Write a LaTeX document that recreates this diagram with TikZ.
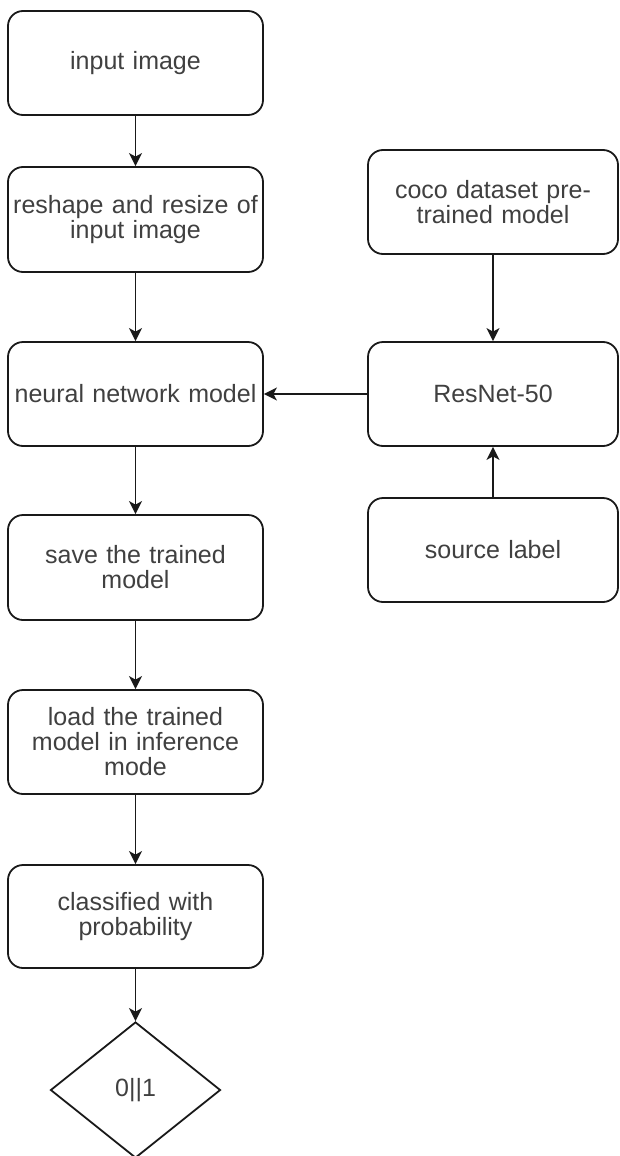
\documentclass[tikz,border=0pt]{standalone}
\usepackage{fontspec}
\setmainfont{Liberation Sans}
\usetikzlibrary{arrows.meta,shapes.geometric}
\begin{document}
\begin{tikzpicture}[x=1pt,y=-1pt,
  box/.style={draw=black!90, line width=1.8pt, rounded corners=15pt, fill=white,
    minimum height=104pt, inner sep=2pt, align=center, text=black!75,
    font=\fontsize{25}{25}\selectfont},
  lbox/.style={box, minimum width=255pt, text width=250pt},
  rbox/.style={box, minimum width=250pt, text width=245pt},
  dec/.style={draw=black!90, line width=1.8pt, shape=diamond, inner sep=0pt,
    minimum width=170pt, minimum height=136pt, aspect=1.25, text=black!75,
    font=\fontsize{25}{25}\selectfont},
  arr/.style={draw=black!90, line width=1.8pt, -{Stealth[length=13pt,width=13pt,inset=3.5pt]}}
]
\useasboundingbox (0,0) rectangle (619,1156);
\node[lbox] (b1) at (135.5,63) {input image};
\node[lbox, minimum height=105pt] (b2) at (135.5,219.5) {reshape and resize of\\input image};
\node[lbox] (b3) at (135.5,394) {neural network model};
\node[lbox, minimum height=105pt] (b4) at (135.5,567.5) {save the trained\\model};
\node[lbox] (b5) at (135.5,742) {load the trained\\model in inference\\mode};
\node[lbox, minimum height=103pt] (b6) at (135.5,916.5) {classified with\\probability};
\node[dec] (d) at (135.5,1090) {0||1};
\node[rbox] (ra) at (493,202) {coco dataset pre-\\trained model};
\node[rbox] (rb) at (493,394) {ResNet-50};
\node[rbox] (rc) at (493,550) {source label};
\draw[arr] (b1) -- (b2);
\draw[arr] (b2) -- (b3);
\draw[arr] (b3) -- (b4);
\draw[arr] (b4) -- (b5);
\draw[arr] (b5) -- (b6);
\draw[arr] (b6) -- (d);
\draw[arr] (ra) -- (rb);
\draw[arr] (rc) -- (rb);
\draw[arr] (rb) -- (b3);
\end{tikzpicture}
\end{document}
